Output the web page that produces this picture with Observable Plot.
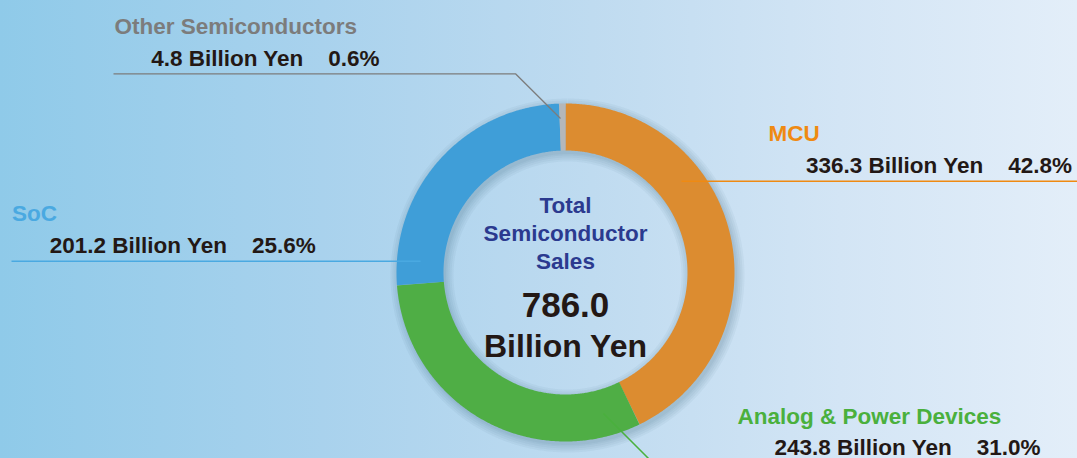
<!DOCTYPE html>
<html>
<head>
<meta charset="utf-8">
<script src="https://cdn.jsdelivr.net/npm/d3@7"></script>
<script src="https://cdn.jsdelivr.net/npm/@observablehq/plot@0.6"></script>
<style>
  html, body { margin: 0; padding: 0; }
  #chart {
    width: 1077px; height: 458px; overflow: hidden; position: relative;
    background: linear-gradient(to right, #8fcae9 0%, #a9d2ed 30%, #bfdbf0 55%, #d3e5f5 78%, #e3eef9 100%);
  }
  #chart svg { display: block; }
</style>
</head>
<body>
<div id="chart"></div>
<script>
// ---- data ----
const categories = ["MCU", "Analog & Power Devices", "SoC", "Other Semiconductors"];
const values = [336.3, 243.8, 201.2, 4.8];          // billion yen
const shares = [42.8, 31.0, 25.6, 0.6];             // percent
const totalValue = 786.0;
const unitLabel = "Billion Yen";
const centerTitle = ["Total", "Semiconductor", "Sales"];

// ---- styles / layout ----
const W = 1077, H = 458;
const sliceColors = ["#dc8c30", "#4fae45", "#3f9ed8", "#b4b7ba"];
const nameColors = ["#ef8a12", "#4ab03d", "#4aa9e1", "#7c7c7c"];
const cx = 565, cy = 272, rOuter = 169, rInner = 122;
const font = "'Liberation Sans', Arial, Helvetica, sans-serif";
// label layout: name position, value line position (baselines), leader polyline
const layout = [
  {nx: 768, ny: 140.7, vx: 805.5, vy: 172.7, leader: [[681, 180.7], [1080, 180.7]]},
  {nx: 737, ny: 423.3, vx: 774, vy: 454, leader: [[603, 413], [652, 462], [1080, 462]]},
  {nx: 11.5, ny: 220.7, vx: 49.3, vy: 252.7, leader: [[11, 260.7], [420, 260.7]]},
  {nx: 114, ny: 33.7, vx: 150.7, vy: 65, leader: [[113, 73.3], [515, 73.3], [560, 118]]}
];

// ---- derived geometry from data ----
const pie = d3.pie().sort(null).startAngle(0).endAngle(2 * Math.PI)(values);
const rMid = (rOuter + rInner) / 2;
const ringPts = [];
pie.forEach((p, i) => {
  const n = Math.max(2, Math.ceil((p.endAngle - p.startAngle) / (Math.PI / 360)));
  for (let k = 0; k <= n; k++) {
    const a = p.startAngle + (p.endAngle - p.startAngle) * k / n;
    ringPts.push({cat: categories[i], x: cx + rMid * Math.sin(a), y: cy - rMid * Math.cos(a)});
  }
});

const labels = categories.map((c, i) => ({
  cat: c, i,
  nx: layout[i].nx, ny: layout[i].ny, vx: layout[i].vx, vy: layout[i].vy,
  valueText: `${values[i].toFixed(1)} ${unitLabel}\u00a0\u00a0\u00a0\u00a0${shares[i].toFixed(1)}%`
}));
const leaders = [];
categories.forEach((c, i) => layout[i].leader.forEach(([x, y]) => leaders.push({cat: c, x, y})));

const centerLines = centerTitle.map((t, k) => ({t, x: cx, y: 212.7 + k * 27.8}));

// soft shadow layers (same ring path, wider and faint, offset down-right)
const shadowLayers = [16, 12, 8, 4, 1].map(extra =>
  Plot.line(ringPts, {x: "x", y: "y", stroke: "#1a3a5a", strokeOpacity: 0.045,
    strokeWidth: rOuter - rInner + extra, strokeLinecap: "butt", strokeLinejoin: "round",
    dx: 2, dy: 3})
);

const plot = Plot.plot({
  width: W, height: H,
  marginTop: 0, marginRight: 0, marginBottom: 0, marginLeft: 0,
  x: {domain: [0, W], range: [0, W], axis: null},
  y: {domain: [0, H], range: [0, H], axis: null},
  style: {background: "transparent", overflow: "hidden"},
  marks: [
    ...shadowLayers,
    Plot.line(ringPts, {x: "x", y: "y", z: "cat",
      stroke: d => sliceColors[categories.indexOf(d.cat)],
      strokeWidth: rOuter - rInner, strokeLinecap: "butt", strokeLinejoin: "round"}),
    Plot.line(leaders, {x: "x", y: "y", z: "cat",
      stroke: d => nameColors[categories.indexOf(d.cat)],
      strokeWidth: d => d.cat === "Other Semiconductors" ? 1.3 : 1.5,
      strokeLinecap: "butt"}),
    Plot.text(labels, {x: "nx", y: "ny", text: "cat", textAnchor: "start", lineAnchor: "bottom",
      fill: d => nameColors[d.i], fontSize: 22.5, fontWeight: "bold", fontFamily: font}),
    Plot.text(labels, {x: "vx", y: "vy", text: "valueText", textAnchor: "start", lineAnchor: "bottom",
      fill: "#231815", fontSize: 22.5, fontWeight: "bold", fontFamily: font}),
    Plot.text(centerLines, {x: "x", y: "y", text: "t", textAnchor: "middle", lineAnchor: "bottom",
      fill: "#2b3a8f", fontSize: 22.5, fontWeight: "bold", fontFamily: font}),
    Plot.text([totalValue], {x: () => cx, y: () => 316.7, text: d => d.toFixed(1), textAnchor: "middle",
      lineAnchor: "bottom", fill: "#231815", fontSize: 35, fontWeight: "bold", fontFamily: font}),
    Plot.text([unitLabel], {x: () => cx, y: () => 356, text: d => d, textAnchor: "middle",
      lineAnchor: "bottom", fill: "#231815", fontSize: 32, fontWeight: "bold", fontFamily: font})
  ]
});

document.getElementById("chart").appendChild(plot);
</script>
</body>
</html>
